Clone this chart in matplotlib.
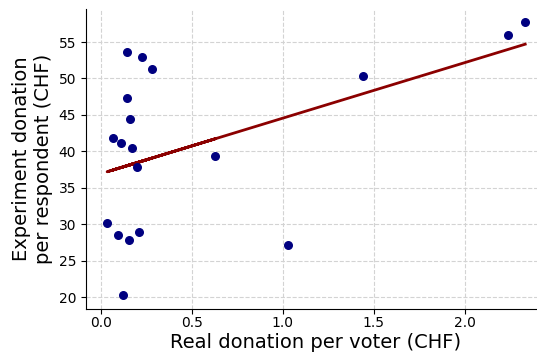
import numpy as np
import matplotlib
matplotlib.use("Agg")
import matplotlib.pyplot as plt

# Real donation per voter vs. experiment donation per respondent (CHF)
real_donation = [0.145, 0.225, 0.280, 0.143, 0.163, 0.066, 0.112, 0.172, 0.200,
                 0.628, 0.035, 0.093, 0.158, 0.212, 0.125, 1.027, 1.441, 2.238, 2.333]
experiment_donation = [53.7, 52.9, 51.3, 47.3, 44.4, 41.9, 41.2, 40.4, 37.9,
                       39.35, 30.2, 28.5, 27.9, 28.9, 20.3, 27.1, 50.4, 55.96, 57.7]

# Linear trend line
fit_intercept = 36.93
fit_slope = 7.62

x = np.array(real_donation)
y = np.array(experiment_donation)
trend = fit_intercept + fit_slope * x

fig = plt.figure(figsize=(5.37, 3.56), dpi=100)
ax = fig.add_axes([0.160, 0.1334, 0.857, 0.842])

ax.scatter(x, y, color="navy", s=30, zorder=3)
ax.plot(x, trend, color="darkred", linewidth=2, zorder=2)

ax.set_xlim(-0.0815, 2.448)
ax.set_ylim(18.43, 59.57)
ax.set_xticks([0.0, 0.5, 1.0, 1.5, 2.0])
ax.set_yticks([20, 25, 30, 35, 40, 45, 50, 55])

ax.grid(True, linestyle="--", color="#d3d3d3", linewidth=0.8)
ax.set_axisbelow(True)
ax.spines["top"].set_visible(False)
ax.spines["right"].set_visible(False)
ax.tick_params(labelsize=10)
ax.tick_params(axis="x", pad=2)

ax.set_xlabel("Real donation per voter (CHF)", fontsize=14, labelpad=2)
ax.set_ylabel("Experiment donation\nper respondent (CHF)", fontsize=14)

fig.savefig("out.png", dpi=100)
